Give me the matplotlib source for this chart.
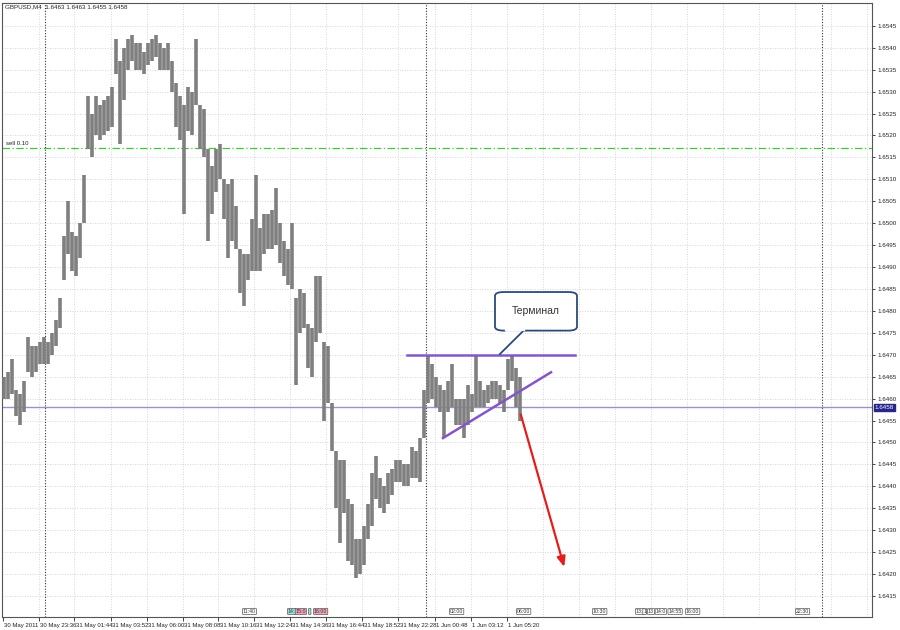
import matplotlib
matplotlib.use("Agg")
from matplotlib import pyplot as plt
from matplotlib.patches import FancyBboxPatch, Polygon
import matplotlib.transforms as mtransforms
import numpy as np

plt.rcParams['font.family'] = ['Liberation Sans', 'DejaVu Sans']

# GBPUSD M4 bars (high / low)
highs = [1.6465, 1.6466, 1.6469, 1.6462, 1.6461, 1.6464, 1.6474, 1.6472, 1.6472, 1.6473,
         1.6474, 1.6473, 1.6475, 1.6478, 1.6483, 1.6497, 1.6505, 1.6498, 1.6497, 1.6500,
         1.6511, 1.6529, 1.6525, 1.6529, 1.6527, 1.6528, 1.6529, 1.6531, 1.6542, 1.6537,
         1.6540, 1.6542, 1.6543, 1.6541, 1.6541, 1.6539, 1.6541, 1.6542, 1.6543, 1.6541,
         1.6540, 1.6541, 1.6537, 1.6532, 1.6529, 1.6527, 1.6531, 1.6530, 1.6542, 1.6527,
         1.6526, 1.6517, 1.6513, 1.6517, 1.6518, 1.6510, 1.6509, 1.6510, 1.6504, 1.6494,
         1.6493, 1.6493, 1.6501, 1.6511, 1.6499, 1.6502, 1.6502, 1.6503, 1.6508, 1.6500,
         1.6496, 1.6494, 1.6500, 1.6483, 1.6485, 1.6484, 1.6477, 1.6476, 1.6488, 1.6488,
         1.6473, 1.6472, 1.6459, 1.6448, 1.6446, 1.6446, 1.6437, 1.6436, 1.6428, 1.6428,
         1.6431, 1.6436, 1.6443, 1.6447, 1.6442, 1.6440, 1.6443, 1.6444, 1.6446, 1.6446,
         1.6445, 1.6445, 1.6449, 1.6448, 1.6451, 1.6462, 1.6470, 1.6468, 1.6465, 1.6463,
         1.6462, 1.6464, 1.6468, 1.6460, 1.6460, 1.6460, 1.6463, 1.6461, 1.6470, 1.6464,
         1.6462, 1.6463, 1.6464, 1.6464, 1.6463, 1.6462, 1.6469, 1.6470, 1.6467, 1.6465]
lows = [1.6460, 1.6460, 1.6461, 1.6456, 1.6454, 1.6457, 1.6466, 1.6465, 1.6466, 1.6468,
        1.6468, 1.6468, 1.6470, 1.6472, 1.6476, 1.6487, 1.6493, 1.6489, 1.6488, 1.6492,
        1.6500, 1.6517, 1.6515, 1.6520, 1.6519, 1.6520, 1.6521, 1.6522, 1.6534, 1.6518,
        1.6528, 1.6535, 1.6537, 1.6535, 1.6535, 1.6534, 1.6536, 1.6537, 1.6538, 1.6535,
        1.6535, 1.6535, 1.6530, 1.6522, 1.6519, 1.6502, 1.6521, 1.6520, 1.6527, 1.6517,
        1.6515, 1.6496, 1.6502, 1.6507, 1.6510, 1.6501, 1.6492, 1.6496, 1.6494, 1.6484,
        1.6481, 1.6487, 1.6489, 1.6489, 1.6489, 1.6493, 1.6494, 1.6494, 1.6495, 1.6491,
        1.6488, 1.6486, 1.6485, 1.6463, 1.6475, 1.6476, 1.6467, 1.6465, 1.6473, 1.6475,
        1.6455, 1.6459, 1.6448, 1.6435, 1.6427, 1.6434, 1.6423, 1.6422, 1.6419, 1.6420,
        1.6422, 1.6428, 1.6431, 1.6437, 1.6435, 1.6434, 1.6436, 1.6438, 1.6441, 1.6441,
        1.6440, 1.6440, 1.6442, 1.6442, 1.6441, 1.6451, 1.6459, 1.6460, 1.6458, 1.6457,
        1.6451, 1.6457, 1.6458, 1.6454, 1.6454, 1.6451, 1.6454, 1.6457, 1.6458, 1.6458,
        1.6458, 1.6459, 1.6460, 1.6460, 1.6459, 1.6457, 1.6462, 1.6464, 1.6458, 1.6455]

time_labels = ["30 May 2011", "30 May 23:36", "31 May 01:44", "31 May 03:52", "31 May 06:00",
               "31 May 08:08", "31 May 10:16", "31 May 12:24", "31 May 14:36", "31 May 16:44",
               "31 May 18:52", "31 May 22:28", "1 Jun 00:48", "1 Jun 03:12", "1 Jun 05:20"]
time_pos = [-0.25, 8.75, 17.5, 26.75, 35.75, 44.75, 53.5, 62.5, 71.5, 80.5, 89.5, 98.5,
            107.75, 116.75, 125.75]
day_separators = [10.25, 105.5, 204.5]

price_ticks = np.arange(1.6415, 1.65451, 0.0005)
last_price = 1.6458
sell_level = 1.65172

# news events along the bottom: (label, bar position, kind)
events = [("11:40", 59.75, "n"), ("14:", 71.0, "c"), ("15:0", 72.9, "p"), (" ", 76.25, "c"),
          ("16:00", 77.5, "p"), ("02:00", 111.5, "n"), ("06:00", 128.25, "n"),
          ("10:30", 147.25, "n"), ("13:", 158.0, "n"), ("1", 159.8, "n"), ("13", 161.0, "n"),
          ("14:0", 162.9, "n"), ("14:55", 166.1, "n"), ("16:00", 170.5, "n"),
          ("22:30", 198.0, "n")]
event_colors = {"n": "white", "c": "#9fe3e3", "p": "#f2a7b8"}

# manual drawings
resistance = ([100.75, 142.75], [1.6470, 1.6470])
support = ([109.75, 136.75], [1.6451, 1.6466])
arrow_start = (129.0, 1.6457)
arrow_end = (140.25, 1.6421)

fig = plt.figure(figsize=(9, 6.3), dpi=100)
ax = fig.add_axes([2/900, 13/630, 870/900, 614/630])
ax.set_xlim(-0.5, 217)
ax.set_ylim(1.64102, 1.65502)

# grid
grid_kw = dict(color="#c8c8c8", lw=0.6, ls=(0, (1, 2)), zorder=0)
for p in price_ticks:
    ax.axhline(p, **grid_kw)
for t in time_pos[1:]:
    ax.axvline(t, **grid_kw)
for t in np.arange(134.75, 217, 9):
    ax.axvline(t, **grid_kw)
for d in day_separators:
    ax.axvline(d, color="#333333", lw=0.8, ls=(0, (1, 1.5)), zorder=1)

# bars
idx = np.arange(len(highs))
ax.vlines(idx, lows, highs, color="#7f7f7f", lw=2.6, zorder=3)

# levels
ax.axhline(sell_level, color="#3cc83c", lw=0.9, ls=(0, (6, 2, 1, 2)), zorder=2)
ax.text(0.4, sell_level + 0.00003, "sell 0.10", fontsize=4.3, color="#222222", va="bottom")
ax.axhline(last_price, color="#9a90cc", lw=1.0, zorder=2)

ax.plot(*resistance, color="#8456c6", lw=1.8, zorder=4)
ax.plot(*support, color="#8456c6", lw=1.8, zorder=4)
ax.annotate("", xy=arrow_end, xytext=arrow_start,
            arrowprops=dict(arrowstyle="-|>,head_length=0.6,head_width=0.25",
                            color="#e81c1c", lw=1.6), zorder=5)

# callout "Терминал"
box = FancyBboxPatch((122.75, 1.64755), 20.5, 0.00088, boxstyle="round,pad=0,rounding_size=2.2",
                     mutation_aspect=0.00004, facecolor="white", edgecolor="#2c4a7c", lw=1.3,
                     zorder=6)
ax.add_patch(box)
tail = Polygon([[125.5, 1.64756], [130.0, 1.64756], [123.8, 1.64700]], closed=False,
               facecolor="white", edgecolor="#2c4a7c", lw=1.3, zorder=7)
ax.add_patch(tail)
ax.plot([125.6, 129.9], [1.64757, 1.64757], color="white", lw=1.6, zorder=8)
ax.text(133.0, 1.64800, "Терминал", fontsize=7.5, color="#333333", ha="center", va="center",
        family=["Liberation Sans", "DejaVu Sans"], zorder=9)

# event markers
trans = mtransforms.blended_transform_factory(ax.transData, ax.transAxes)
for lab, pos, kind in events:
    ax.text(pos, 0.009, lab, transform=trans, fontsize=3.8, color="#333333", ha="left",
            va="center", zorder=6,
            bbox=dict(boxstyle="round,pad=0.08", fc=event_colors[kind], ec="#555555", lw=0.5))

# axes styling
ax.yaxis.tick_right()
ax.set_yticks(price_ticks)
ax.set_yticklabels(["%.4f" % p for p in price_ticks], fontsize=4.5)
ax.tick_params(axis="y", length=2.5, width=0.6, pad=1.5, colors="#222222")
ax.set_xticks(time_pos)
ax.set_xticklabels(time_labels, fontsize=4.3, ha="left")
ax.tick_params(axis="x", length=3, width=0.6, pad=1, colors="#222222")
offset = mtransforms.ScaledTranslation(1.5/100, 0, fig.dpi_scale_trans)
for lbl in ax.get_xticklabels():
    lbl.set_transform(lbl.get_transform() + offset)
for s in ax.spines.values():
    s.set_color("#555555")
    s.set_linewidth(0.8)

# current price tag on the axis
ax.text(1.003, last_price, "1.6458",
        transform=mtransforms.blended_transform_factory(ax.transAxes, ax.transData),
        fontsize=4.5, color="white", va="center", ha="left", zorder=10,
        bbox=dict(boxstyle="square,pad=0.15", fc="#25258a", ec="#25258a"), clip_on=False)

fig.text(5/900, 1 - 7/630, "GBPUSD,M4  1.6463 1.6463 1.6455 1.6458", fontsize=4.5,
         color="#222222", va="center")

fig.savefig("out.png", dpi=100)
